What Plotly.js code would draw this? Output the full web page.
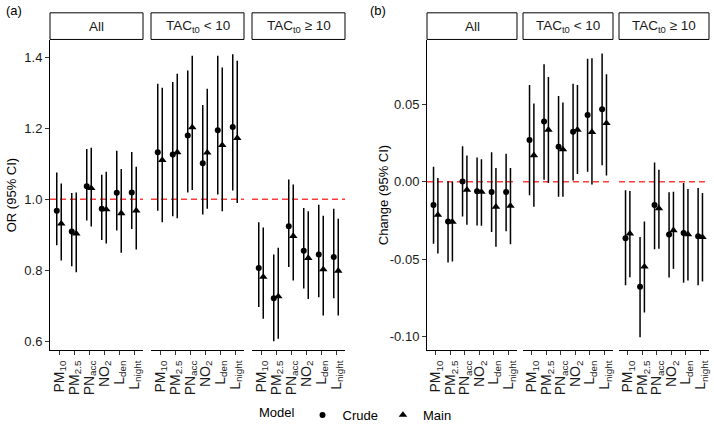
<!DOCTYPE html>
<html>
<head>
<meta charset="utf-8">
<script src="https://cdn.plot.ly/plotly-3.0.1.min.js"></script>
<style>html,body{margin:0;padding:0;background:#fff;}#chart{width:714px;height:430px;}</style>
</head>
<body>
<div id="chart"></div>
<script>
// ---------- DATA ----------
const categories = ['PM10', 'PM2.5', 'PNacc', 'NO2', 'Lden', 'Lnight'];
const tickLabels = ['PM<sub>10</sub>', 'PM<sub>2.5</sub>', 'PN<sub>acc</sub>', 'NO<sub>2</sub>', 'L<sub>den</sub>', 'L<sub>night</sub>'];
const strips = ['All', 'TAC<sub>t0</sub> < 10', 'TAC<sub>t0</sub> ≥ 10'];
const models = ['Crude', 'Main'];

// (a) odds ratios
const orAllCrude = [0.967, 0.909, 1.036, 0.973, 1.018, 1.019];
const orAllCrudeLo = [0.870, 0.811, 0.940, 0.885, 0.912, 0.916];
const orAllCrudeHi = [1.075, 1.017, 1.141, 1.069, 1.136, 1.133];
const orAllMain = [0.931, 0.903, 1.031, 0.971, 0.960, 0.968];
const orAllMainLo = [0.827, 0.794, 0.923, 0.875, 0.849, 0.858];
const orAllMainHi = [1.044, 1.019, 1.145, 1.077, 1.085, 1.091];

const orLowCrude = [1.132, 1.126, 1.179, 1.101, 1.194, 1.203];
const orLowCrudeLo = [0.967, 0.952, 1.019, 0.957, 1.013, 1.024];
const orLowCrudeHi = [1.325, 1.330, 1.362, 1.265, 1.404, 1.408];
const orLowMain = [1.110, 1.132, 1.202, 1.131, 1.152, 1.172];
const orLowMainLo = [0.935, 0.946, 1.026, 0.973, 0.966, 0.989];
const orLowMainHi = [1.314, 1.353, 1.404, 1.311, 1.371, 1.390];

const orHighCrude = [0.806, 0.721, 0.924, 0.855, 0.844, 0.837];
const orHighCrudeLo = [0.696, 0.600, 0.809, 0.748, 0.724, 0.721];
const orHighCrudeHi = [0.935, 0.844, 1.055, 0.975, 0.984, 0.973];
const orHighMain = [0.781, 0.726, 0.896, 0.834, 0.802, 0.798];
const orHighMainLo = [0.663, 0.607, 0.771, 0.719, 0.672, 0.672];
const orHighMainHi = [0.920, 0.863, 1.041, 0.966, 0.953, 0.945];

// (b) change
const chAllCrude = [-0.0150, -0.0256, 0.0003, -0.0061, -0.0065, -0.0065];
const chAllCrudeLo = [-0.0400, -0.0521, -0.0224, -0.0282, -0.0324, -0.0320];
const chAllCrudeHi = [0.0098, 0.0004, 0.0231, 0.0157, 0.0191, 0.0182];
const chAllMain = [-0.0214, -0.0258, -0.0051, -0.0065, -0.0161, -0.0156];
const chAllMainLo = [-0.0464, -0.0515, -0.0277, -0.0284, -0.0420, -0.0404];
const chAllMainHi = [0.0025, 0.0000, 0.0170, 0.0146, 0.0089, 0.0089];

const chLowCrude = [0.0271, 0.0390, 0.0227, 0.0324, 0.0432, 0.0469];
const chLowCrudeLo = [-0.0087, 0.0013, -0.0097, 0.0009, 0.0066, 0.0108];
const chLowCrudeHi = [0.0627, 0.0761, 0.0556, 0.0634, 0.0797, 0.0831];
const chLowMain = [0.0172, 0.0337, 0.0210, 0.0337, 0.0322, 0.0380];
const chLowMainLo = [-0.0161, -0.0008, -0.0097, 0.0051, -0.0017, 0.0041];
const chLowMainHi = [0.0507, 0.0678, 0.0513, 0.0627, 0.0799, 0.0697];

const chHighCrude = [-0.0364, -0.0678, -0.0150, -0.0341, -0.0331, -0.0352];
const chHighCrudeLo = [-0.0669, -0.1006, -0.0436, -0.0619, -0.0652, -0.0669];
const chHighCrudeHi = [-0.0055, -0.0356, 0.0125, -0.0067, -0.0008, -0.0040];
const chHighMain = [-0.0334, -0.0549, -0.0172, -0.0313, -0.0339, -0.0358];
const chHighMainLo = [-0.0617, -0.0845, -0.0432, -0.0563, -0.0638, -0.0644];
const chHighMainHi = [-0.0059, -0.0256, 0.0079, -0.0064, -0.0046, -0.0072];

const orTicks = [0.6, 0.8, 1.0, 1.2, 1.4];
const chTicks = [0.05, 0.00, -0.05, -0.10];
const chTickText = ['0.05', '0.00', '-0.05', '-0.10'];
const orRef = 1;
const chRef = 0;

// ---------- LAYOUT HELPERS ----------
const W = 714, H = 430;
const FONT = '"Liberation Sans", Arial, sans-serif';
const px = v => v / W;
const py = v => 1 - v / H;
const panelTop = 41, panelBottom = 355, stripTop = 13, stripBottom = 40;
const xDomPx = [[50, 143], [151, 244], [252, 345], [427, 517], [523, 613], [619, 709]];
const dodge = 0.15;
const xIdx = categories.map((_, i) => i + 1);

const groups = [
  [orAllCrude, orAllCrudeLo, orAllCrudeHi, orAllMain, orAllMainLo, orAllMainHi],
  [orLowCrude, orLowCrudeLo, orLowCrudeHi, orLowMain, orLowMainLo, orLowMainHi],
  [orHighCrude, orHighCrudeLo, orHighCrudeHi, orHighMain, orHighMainLo, orHighMainHi],
  [chAllCrude, chAllCrudeLo, chAllCrudeHi, chAllMain, chAllMainLo, chAllMainHi],
  [chLowCrude, chLowCrudeLo, chLowCrudeHi, chLowMain, chLowMainLo, chLowMainHi],
  [chHighCrude, chHighCrudeLo, chHighCrudeHi, chHighMain, chHighMainLo, chHighMainHi]
];

const traces = [];
groups.forEach((g, p) => {
  const xa = p === 0 ? 'x' : 'x' + (p + 1);
  const ya = p < 3 ? 'y' : 'y2';
  [0, 1].forEach(m => {
    const est = g[m * 3], lo = g[m * 3 + 1], hi = g[m * 3 + 2];
    traces.push({
      type: 'scatter', mode: 'markers',
      x: xIdx.map(v => v + (m === 0 ? -dodge : dodge)),
      y: est,
      xaxis: xa, yaxis: ya,
      name: models[m],
      legendgroup: models[m],
      showlegend: p === 0,
      marker: {color: '#000', symbol: m === 0 ? 'circle' : 'triangle-up', size: m === 0 ? 6 : 7.5, line: {width: 0}},
      error_y: {type: 'data', symmetric: false,
        array: hi.map((h, i) => h - est[i]),
        arrayminus: lo.map((l, i) => est[i] - l),
        width: 0, thickness: 1.5, color: '#000'},
      hoverinfo: 'skip'
    });
  });
});

const layout = {
  width: W, height: H,
  margin: {l: 0, r: 0, t: 0, b: 0},
  paper_bgcolor: '#fff', plot_bgcolor: 'rgba(0,0,0,0)',
  font: {family: FONT, size: 12, color: '#000'},
  showlegend: true,
  legend: {orientation: 'h', x: 0.5, xanchor: 'center', y: py(421), yanchor: 'middle',
    title: {text: 'Model', side: 'left', font: {size: 13}}, font: {size: 13},
    itemwidth: 30, tracegroupgap: 0},
  shapes: [], annotations: []
};

xDomPx.forEach((d, p) => {
  const key = p === 0 ? 'xaxis' : 'xaxis' + (p + 1);
  layout[key] = {
    domain: [px(d[0]), px(d[1])],
    anchor: p < 3 ? 'y' : 'y2',
    range: [0.4, categories.length + 0.6],
    tickmode: 'array', tickvals: xIdx, ticktext: tickLabels,
    tickangle: -90, ticks: 'outside', ticklen: 4, tickwidth: 1, tickcolor: '#333',
    tickfont: {size: 14, color: '#1a1a1a'},
    showline: true, linecolor: '#000', linewidth: 1,
    showgrid: false, zeroline: false, fixedrange: true
  };
  // strip
  layout.shapes.push({type: 'rect', xref: 'paper', yref: 'paper',
    x0: px(d[0]), x1: px(d[1]), y0: py(stripBottom), y1: py(stripTop),
    line: {color: '#000', width: 1}, fillcolor: '#fff'});
  layout.annotations.push({xref: 'paper', yref: 'paper', x: px((d[0] + d[1]) / 2), y: py((stripTop + stripBottom) / 2),
    text: strips[p % 3], showarrow: false, xanchor: 'center', yanchor: 'middle', font: {size: 13.5, color: '#1a1a1a'}});
  // reference line
  layout.shapes.push({type: 'line', xref: (p === 0 ? 'x' : 'x' + (p + 1)) + ' domain', yref: p < 3 ? 'y' : 'y2',
    x0: 0, x1: 1, y0: p < 3 ? orRef : chRef, y1: p < 3 ? orRef : chRef,
    line: {color: '#ff3b3b', width: 1.5, dash: '6px,4px'}, layer: 'below'});
});

layout.yaxis = {
  domain: [py(panelBottom), py(panelTop)], anchor: 'x',
  range: [0.575, 1.447],
  tickmode: 'array', tickvals: orTicks, tickformat: '.1f',
  ticks: 'outside', ticklen: 4, tickwidth: 1, tickcolor: '#333',
  tickfont: {size: 13, color: '#1a1a1a'},
  showline: true, linecolor: '#000', linewidth: 1,
  showgrid: false, zeroline: false, fixedrange: true
};
layout.yaxis2 = {
  domain: [py(panelBottom), py(panelTop)], anchor: 'x4',
  range: [-0.1088, 0.0915],
  tickmode: 'array', tickvals: chTicks, ticktext: chTickText,
  ticks: 'outside', ticklen: 4, tickwidth: 1, tickcolor: '#333',
  tickfont: {size: 13, color: '#1a1a1a'},
  showline: true, linecolor: '#000', linewidth: 1,
  showgrid: false, zeroline: false, fixedrange: true
};

// axis titles & panel labels
layout.annotations.push(
  {xref: 'paper', yref: 'paper', x: px(11), y: py((panelTop + panelBottom) / 2), text: 'OR (95% CI)',
   textangle: -90, showarrow: false, xanchor: 'center', yanchor: 'middle', font: {size: 13}},
  {xref: 'paper', yref: 'paper', x: px(383), y: py((panelTop + panelBottom) / 2), text: 'Change (95% CI)',
   textangle: -90, showarrow: false, xanchor: 'center', yanchor: 'middle', font: {size: 13}},
  {xref: 'paper', yref: 'paper', x: px(4), y: py(1), text: '(a)', showarrow: false,
   xanchor: 'left', yanchor: 'top', font: {size: 13}},
  {xref: 'paper', yref: 'paper', x: px(368), y: py(1), text: '(b)', showarrow: false,
   xanchor: 'left', yanchor: 'top', font: {size: 13}}
);

Plotly.newPlot('chart', traces, layout, {displayModeBar: false, staticPlot: true});
</script>
</body>
</html>
